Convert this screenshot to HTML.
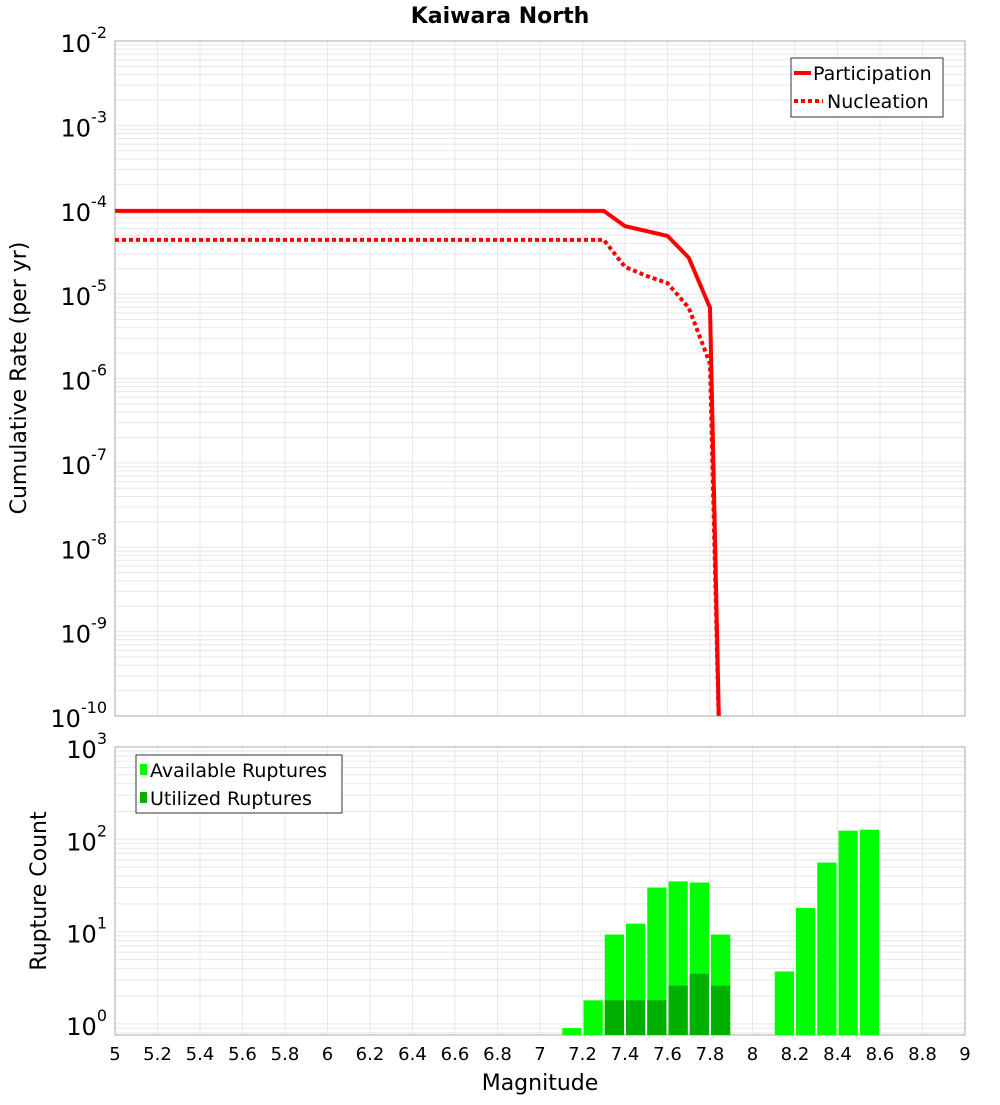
<!DOCTYPE html>
<html><head><meta charset="utf-8"><style>
body{margin:0;background:#fff;font-family:"Liberation Sans","DejaVu Sans",sans-serif}
svg text{font-family:"DejaVu Sans","Liberation Sans",sans-serif}
</style></head><body>
<svg id="c" width="1000" height="1100" xmlns="http://www.w3.org/2000/svg"></svg>
<script>
const mags=[5,7.3,7.4,7.5,7.6,7.7,7.8,7.85];
const participation=[9.7e-5,9.7e-5,6.4e-5,5.6e-5,4.9e-5,2.7e-5,6.9e-6,1e-11];
const nucleation=[4.4e-5,4.4e-5,2.1e-5,1.65e-5,1.35e-5,6.9e-6,1.5e-6,1e-11];
const binMags=[7.1,7.2,7.3,7.4,7.5,7.6,7.7,7.8,8.1,8.2,8.3,8.4,8.5];
const available=[0.9,1.8,9.3,12.2,30,35,34,9.3,3.7,18,56,124,127];
const utilMags=[7.3,7.4,7.5,7.6,7.7,7.8];
const utilized=[1.8,1.8,1.8,2.6,3.5,2.6];
const xTicks=[5,5.2,5.4,5.6,5.8,6,6.2,6.4,6.6,6.8,7,7.2,7.4,7.6,7.8,8,8.2,8.4,8.6,8.8,9];
const xLabels=["5","5.2","5.4","5.6","5.8","6","6.2","6.4","6.6","6.8","7","7.2","7.4","7.6","7.8","8","8.2","8.4","8.6","8.8","9"];
const topExps=[-10,-9,-8,-7,-6,-5,-4,-3,-2];
const botExps=[0,1,2,3];

const svg=document.getElementById('c');const NS='http://www.w3.org/2000/svg';
function mk(t,a,p){const e=document.createElementNS(NS,t);for(const k in a)e.setAttribute(k,a[k]);(p||svg).appendChild(e);return e;}
const L=115,R=965;
const x=m=>L+(m-5)/4*(R-L);
const T1=41,B1=716,yt=v=>T1+(-2-Math.log10(v))/8*(B1-T1);
const T2=747,B2=1035,D2=92.3,yb=v=>T2+(3-Math.log10(v))*D2;

const defs=mk('defs',{});
const cp=mk('clipPath',{id:'cp1'},defs);mk('rect',{x:L,y:T1,width:R-L,height:B1-T1},cp);
const cp2=mk('clipPath',{id:'cp2'},defs);mk('rect',{x:L,y:T2,width:R-L,height:B2-T2},cp2);

function grid(T,B,lo,hi,yf,name){
  const g=mk('g',{stroke:'#e8e8e8','stroke-width':1});
  
  for(let e=lo;e<hi;e++)for(let k=1;k<10;k++){const yy=yf(k*Math.pow(10,e));if(yy>=T&&yy<=B)mk('line',{x1:L,x2:R,y1:yy,y2:yy},g);}
  xTicks.forEach(m=>mk('line',{x1:x(m),x2:x(m),y1:T,y2:B},g));
}
grid(T1,B1,-10,-2,yt,'top-grid');
grid(T2,B2,-1,3,yb,'bottom-grid');
const f1=mk('rect',{x:L,y:T1,width:R-L,height:B1-T1,fill:'none',stroke:'#aaa'});
const f2=mk('rect',{x:L,y:T2,width:R-L,height:B2-T2,fill:'none',stroke:'#aaa'});

// lines
function line(vals,dash,name){
  const p=mk('polyline',{points:mags.map((m,i)=>x(m)+','+yt(vals[i])).join(' '),fill:'none',stroke:'#ff0000','stroke-width':4,'clip-path':'url(#cp1)'});
  if(dash)p.setAttribute('stroke-dasharray','4,3');
  
}
line(participation,false,'participation-line');
line(nucleation,true,'nucleation-line');

// bars
const bw=(x(5.1)-x(5))-2;
binMags.forEach((m,i)=>{const r=mk('rect',{x:x(m)+1,y:yb(available[i]),width:bw,height:B2-yb(available[i]),fill:'#00ff00','clip-path':'url(#cp2)'});
});
utilMags.forEach((m,i)=>{const r=mk('rect',{x:x(m)+1,y:yb(utilized[i]),width:bw,height:B2-yb(utilized[i]),fill:'#00b000','clip-path':'url(#cp2)'});
});

// axis labels
function ylab(yy,e,name){const t=mk('text',{x:107,y:yy+11,'text-anchor':'end','font-size':24,fill:'#000'});t.textContent='10';
const s=mk('tspan',{dy:-14,'font-size':16},t);s.textContent=String(e);}
topExps.forEach(e=>ylab(yt(Math.pow(10,e)),e,'y-tick-label'));
botExps.forEach(e=>ylab(yb(Math.pow(10,e)),e,'y2-tick-label'));
xTicks.forEach((m,i)=>{const t=mk('text',{x:x(m),y:1060,'text-anchor':'middle','font-size':18});t.textContent=xLabels[i];
});

function txt(s,a,name){const t=mk('text',a);t.textContent=s;return t;}
txt('Kaiwara North',{x:500,y:23,'text-anchor':'middle','font-size':22,'font-weight':'bold'},'chart-title');
txt('Magnitude',{x:540,y:1090,'text-anchor':'middle','font-size':22},'x-axis-title');
txt('Cumulative Rate (per yr)',{x:0,y:0,'text-anchor':'middle','font-size':22,transform:'translate(26,378) rotate(-90)'},'y-axis-title');
txt('Rupture Count',{x:0,y:0,'text-anchor':'middle','font-size':22,transform:'translate(46,891) rotate(-90)'},'y2-axis-title');

// legends
const lg=mk('g',{});
mk('rect',{x:791,y:58,width:152,height:59,fill:'#fff',stroke:'#333'},lg);
mk('line',{x1:794,x2:811,y1:73,y2:73,stroke:'#f00','stroke-width':4},lg);
mk('line',{x1:794,x2:823,y1:101,y2:101,stroke:'#f00','stroke-width':4,'stroke-dasharray':'4,3'},lg);
let t=mk('text',{x:813,y:80,'font-size':19},lg);t.textContent='Participation';
t=mk('text',{x:827,y:108,'font-size':19},lg);t.textContent='Nucleation';
const lg2=mk('g',{});
mk('rect',{x:136,y:755,width:206,height:58,fill:'#fff',stroke:'#333'},lg2);
mk('rect',{x:140,y:764,width:7,height:11,fill:'#00ff00'},lg2);
mk('rect',{x:140,y:792,width:7,height:11,fill:'#00b000'},lg2);
t=mk('text',{x:150,y:777,'font-size':19},lg2);t.textContent='Available Ruptures';
t=mk('text',{x:150,y:805,'font-size':19},lg2);t.textContent='Utilized Ruptures';
</script>
</body></html>
